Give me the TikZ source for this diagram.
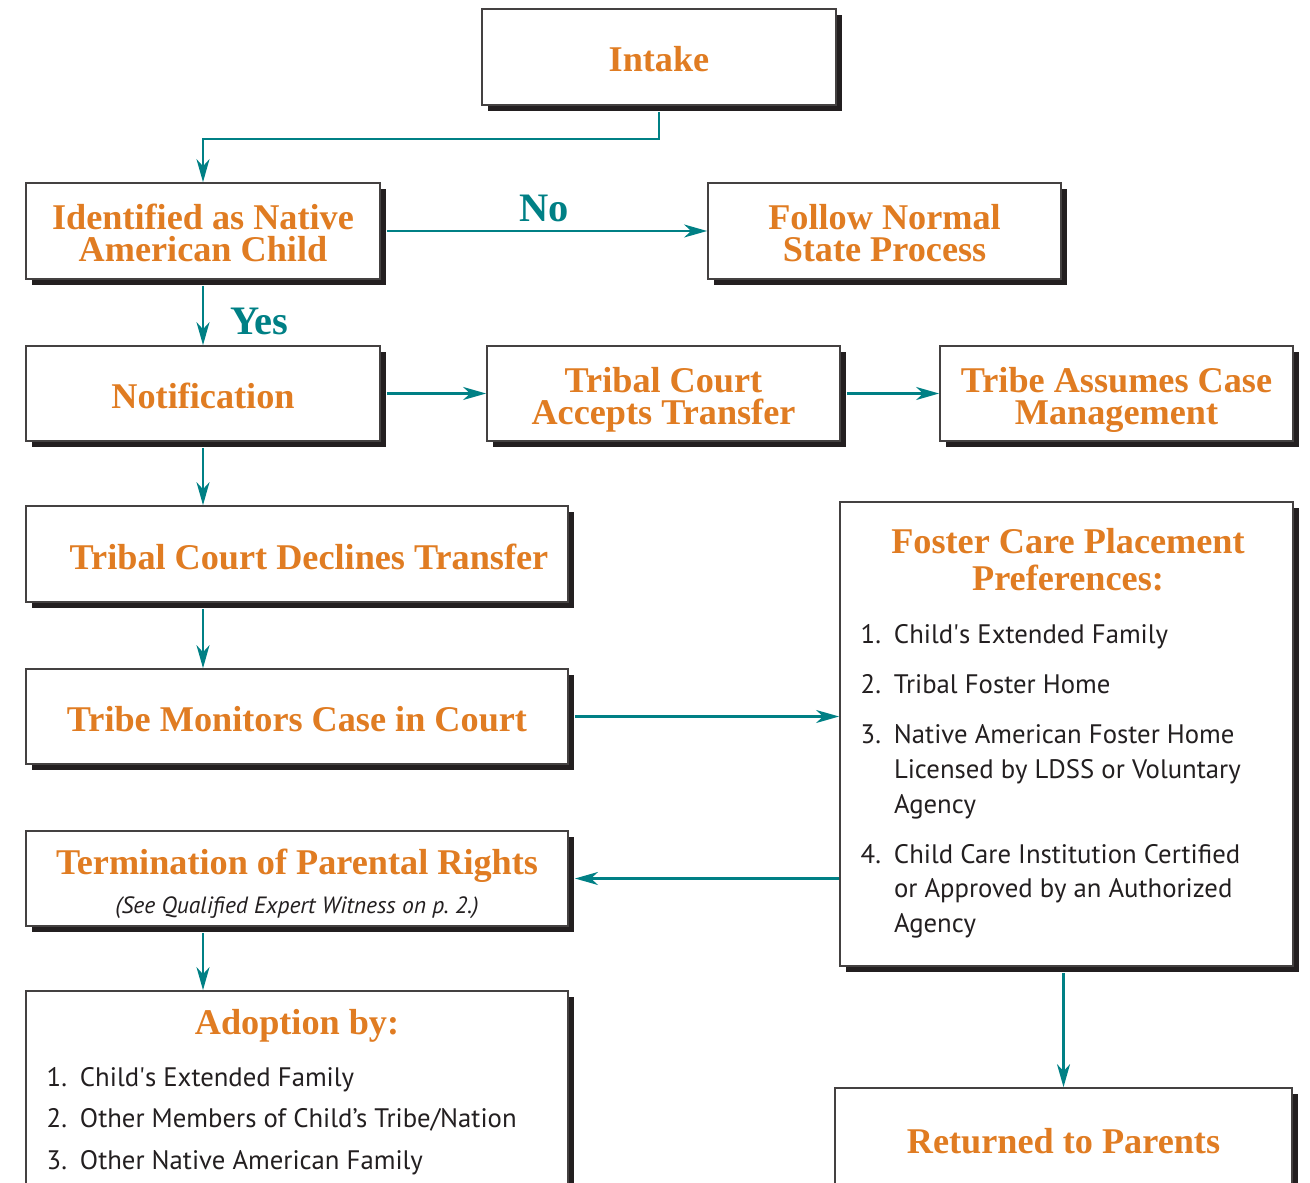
\documentclass[tikz,border=0pt]{standalone}
\usepackage{fontspec}
\setmainfont{PT Sans}
\newfontfamily\headfont{Liberation Serif}
\usetikzlibrary{arrows.meta,positioning,shadows}

\definecolor{headorange}{RGB}{224,124,34}
\definecolor{flowteal}{RGB}{0,128,133}
\definecolor{inkblack}{RGB}{35,31,32}

\begin{document}
\begin{tikzpicture}[
    x=0.01cm, y=-0.01cm,
    box/.style={rectangle, draw=inkblack!85, line width=0.45pt, fill=white, align=center, inner sep=0pt,
        text=headorange, font=\headfont\bfseries\fontsize{10.3}{9.1}\selectfont,
        text height=0.30cm, text depth=0pt,
        drop shadow={shadow xshift=0.06cm, shadow yshift=-0.06cm, fill=inkblack, opacity=1}},
    twoline/.style={text height=0.61cm},
    heading/.style={inner sep=0pt, align=center, text=headorange, font=\headfont\bfseries\fontsize{10.3}{10.5}\selectfont},
    decision/.style={inner sep=0pt, text=flowteal, font=\headfont\bfseries\fontsize{11.5}{13}\selectfont},
    listtext/.style={inner sep=0pt, text=inkblack, align=left, font=\fontsize{7.6}{9.9}\selectfont},
    note/.style={inner sep=0pt, text=inkblack, font=\itshape\fontsize{6.7}{8}\selectfont},
    flow/.style={-{Stealth[length=2.3mm, width=1.3mm, inset=0.7mm]}, draw=flowteal, line width=0.6pt}
]
\useasboundingbox (0,0) rectangle (1310,1183);
\clip (0,0) rectangle (1310,1183);

% Top of the chart
\node[box, minimum width=3.54cm, minimum height=0.96cm] (intake) at (659,57) {Intake};
\node[box, twoline, minimum width=3.54cm, minimum height=0.96cm] (ident) at (203,231) {Identified as Native\\American Child};
\node[box, twoline, minimum width=3.53cm, minimum height=0.96cm] (normal) at (884.5,231) {Follow Normal\\State Process};

% Transfer row
\node[box, minimum width=3.54cm, minimum height=0.95cm] (notify) at (203,393.5) {Notification};
\node[box, twoline, minimum width=3.53cm, minimum height=0.95cm] (accepts) at (663.5,393.5) {Tribal Court\\Accepts Transfer};
\node[box, twoline, minimum width=3.53cm, minimum height=0.95cm] (assumes) at (1116.5,393.5) {Tribe Assumes Case\\Management};

% Left column
\node[box, minimum width=5.42cm, minimum height=0.96cm] (declines) at (297,554) {\hspace*{0.24cm}Tribal Court Declines Transfer};
\node[box, minimum width=5.42cm, minimum height=0.95cm] (monitors) at (297,716.5) {Tribe Monitors Case in Court};
\node[box, minimum width=5.42cm, minimum height=0.95cm] (termination) at (297,878.5) {};
\node[heading] (termtitle) at (297,866) {Termination of Parental Rights};
\node[note] (termnote) at (297,908) {(See Qualified Expert Witness on p.~2.)};

\node[box, minimum width=5.42cm, minimum height=2.09cm] (adoption) at (297,1095.5) {};
\node[heading] (adopttitle) at (297,1026) {Adoption by:};
\node[listtext, anchor=north west] (adoptlist) at (46,1061) {%
    \begin{tabular}{@{}l@{\hspace{1.3mm}}l@{}}
    1. & Child\textquotesingle s Extended Family\\[1.9pt]
    2. & Other Members of Child’s Tribe/Nation\\[1.9pt]
    3. & Other Native American Family
    \end{tabular}};

% Right column
\node[box, minimum width=4.53cm, minimum height=4.64cm] (foster) at (1066.5,734) {};
\node[heading] (fostertitle) at (1068,560) {Foster Care Placement\\Preferences:};
\node[listtext, anchor=north west] (fosterlist) at (860,618.5) {%
    \begin{tabular}{@{}l@{\hspace{1.3mm}}l@{}}
    1. & Child\textquotesingle s Extended Family\\[4.3pt]
    2. & Tribal Foster Home\\[4.3pt]
    3. & Native American Foster Home\\
       & Licensed by LDSS or Voluntary\\
       & Agency\\[4.3pt]
    4. & Child Care Institution Certified\\
       & or Approved by an Authorized\\
       & Agency
    \end{tabular}};

\node[box, text height=0.22cm, minimum width=4.57cm, minimum height=1.08cm] (returned) at (1063.5,1142) {Returned to Parents};

% Connectors
\draw[flow, shorten <=0.06cm] (intake.south) -- (intake.south |- 0,139) -| (ident.north);
\draw[flow, shorten <=0.06cm] (ident.east) -- (normal.west) node[decision, midway, above=0.08cm] (nolabel) {No};
\draw[flow, shorten <=0.06cm] (ident.south) -- (notify.north) node[decision, midway, right=0.26cm, yshift=-0.09cm] (yeslabel) {Yes};
\draw[flow, shorten <=0.06cm] (notify.east) -- (accepts.west);
\draw[flow, shorten <=0.06cm] (accepts.east) -- (assumes.west);
\draw[flow, shorten <=0.06cm] (notify.south) -- (notify.south |- declines.north);
\draw[flow, shorten <=0.06cm] (notify.south |- declines.south) -- (notify.south |- monitors.north);
\draw[flow, shorten <=0.06cm] (monitors.east) -- (monitors.east -| foster.west);
\draw[flow, shorten >=0.06cm] (foster.west |- termination.east) -- (termination.east);
\draw[flow, shorten <=0.06cm] (notify.south |- termination.south) -- (notify.south |- adoption.north);
\draw[flow, shorten <=0.06cm] (foster.south -| returned.north) -- (returned.north);

\end{tikzpicture}
\end{document}
